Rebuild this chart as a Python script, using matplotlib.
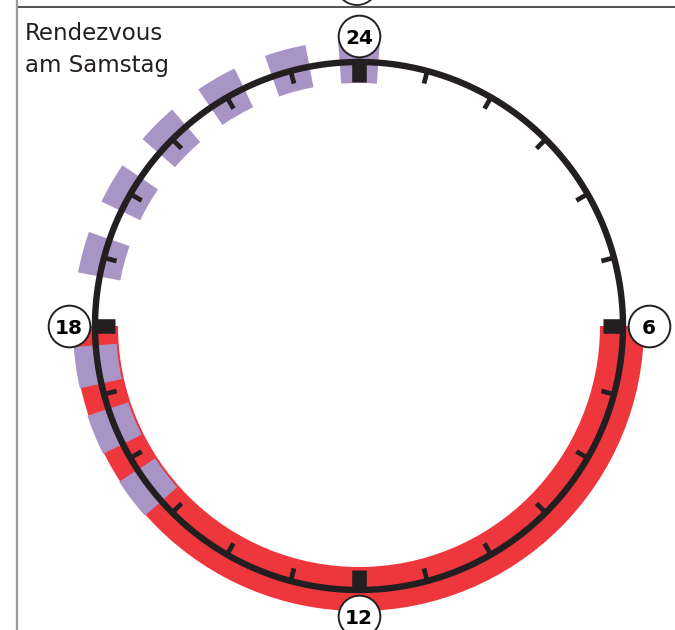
import numpy as np
import matplotlib
matplotlib.use('Agg')
import matplotlib.pyplot as plt
from matplotlib.patches import Circle

# hours on a 24h dial (0 = 24 at the top, running clockwise)
red_start = [6.0]
red_end = [18.0]
purple_start = [15.23, 16.23, 17.16, 18.72, 19.72, 20.72, 21.72, 22.72, 23.72]
purple_end = [15.80, 16.78, 17.72, 19.28, 20.28, 21.28, 22.28, 23.28, 24.28]
label_hours = [0, 6, 12, 18]
label_text = ['24', '6', '12', '18']
title_lines = ['Rendezvous', 'am Samstag']

RED = '#EE373D'
PURPLE = '#A994C6'
DARK = '#231F20'

W, H = 675, 630
RING_R = 264


def to_theta(h):
    return np.asarray(h, dtype=float) / 24.0 * 2 * np.pi


def main():
    fig = plt.figure(figsize=(W / 100, H / 100), dpi=100)

    # background axes in pixel units for frame and title
    bg = fig.add_axes([0, 0, 1, 1])
    bg.set_xlim(0, W)
    bg.set_ylim(H, 0)
    bg.axis('off')
    bg.plot([17, W], [7, 7], color='#333333', lw=1.2)
    bg.plot([17, 17], [0, H], color='#9a9a9a', lw=1.6)
    bg.add_patch(Circle((357, -16), 21, fc='white', ec=DARK, lw=1.3))
    for i, line in enumerate(title_lines):
        bg.text(25, 40 + 32 * i, line, fontsize=16.5, color=DARK,
                ha='left', va='baseline', family='DejaVu Sans')

    # polar dial, r measured in pixels
    half = 320
    cx, cy = 359, H - 326
    ax = fig.add_axes([(cx - half) / W, (cy - half) / H, 2 * half / W, 2 * half / H],
                      projection='polar')
    ax.set_theta_zero_location('N')
    ax.set_theta_direction(-1)
    ax.set_rlim(0, half)
    ax.axis('off')
    ax.patch.set_visible(False)

    # red band
    rs, re_ = to_theta(red_start), to_theta(red_end)
    ax.bar((rs + re_) / 2, 44, width=re_ - rs, bottom=241, color=RED,
           linewidth=0, zorder=1)

    # purple blocks
    ps, pe = to_theta(purple_start), to_theta(purple_end)
    ax.bar((ps + pe) / 2, 43, width=pe - ps, bottom=243, color=PURPLE,
           linewidth=0, zorder=2)

    # ring
    t = np.linspace(0, 2 * np.pi, 500)
    ax.plot(t, np.full_like(t, RING_R), color=DARK, lw=4.6, zorder=3)

    # hour ticks
    for h in range(24):
        th = to_theta(h)
        if h % 6 == 0:
            ax.plot([th, th], [RING_R, RING_R - 20], color=DARK, lw=10.5,
                    solid_capstyle='butt', zorder=4)
        else:
            ax.plot([th, th], [RING_R, RING_R - 13], color=DARK, lw=3.4,
                    solid_capstyle='butt', zorder=4)

    # hour labels in circles
    lt = to_theta(label_hours)
    ax.scatter(lt, np.full(len(lt), 290), s=900, facecolor='white',
               edgecolor=DARK, linewidth=1.4, zorder=5, clip_on=False)
    for th, txt in zip(lt, label_text):
        ax.text(th, 290, txt, fontsize=14.5, fontweight='bold', color='black',
                ha='center', va='center_baseline', zorder=6)

    fig.savefig('out.png', dpi=100)


if __name__ == '__main__':
    main()
